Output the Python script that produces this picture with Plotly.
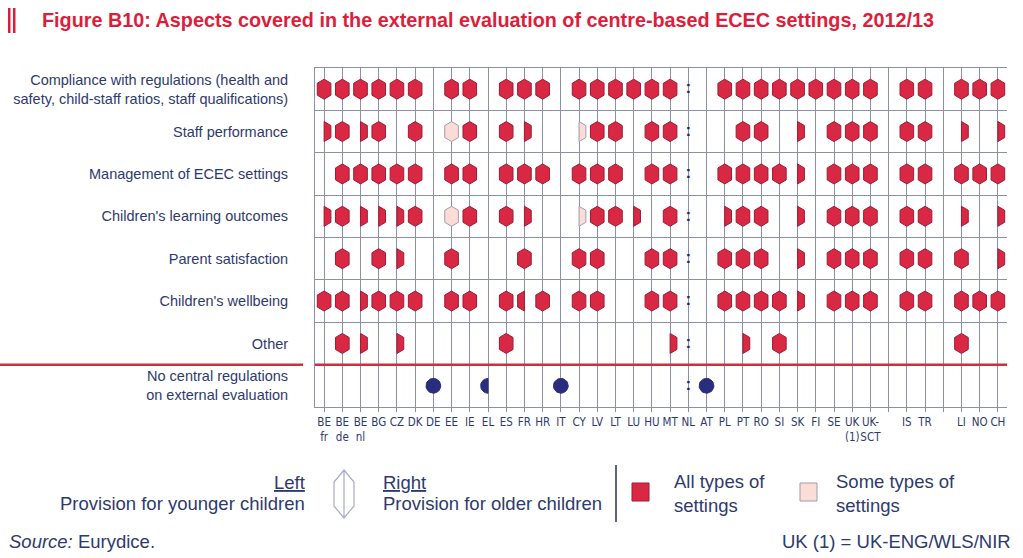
import math
import plotly.graph_objects as go

# ---------------- data ----------------
countries = ["BE<br>fr", "BE<br>de", "BE<br>nl", "BG", "CZ", "DK", "DE", "EE", "IE", "EL",
             "ES", "FR", "HR", "IT", "CY", "LV", "LT", "LU", "HU", "MT", "NL", "AT", "PL",
             "PT", "RO", "SI", "SK", "FI", "SE", "UK<br>(1)", "UK-<br>SCT", "", "IS", "TR",
             "", "LI", "NO", "CH"]

aspects = ["Compliance with regulations (health and<br>safety, child-staff ratios, staff qualifications)",
           "Staff performance",
           "Management of ECEC settings",
           "Children's learning outcomes",
           "Parent satisfaction",
           "Children's wellbeing",
           "Other",
           "No central regulations<br>on external evaluation"]

# codes per country: F = all settings (both ages), R = all settings, older children only,
# L = all settings, younger children only, f = some settings (both), r = some settings, older only,
# O = no central regulations, ( = no central regulations for younger children, : = not available
compliance          = list("FFFFFF.FF.FFF.FFFFFF:.FFFFFFFFF.FF.FFF")
staff_performance   = list("RFRF.F.fF.FR..rFF.FF:..FF.R.FFF.FF.R.R")
management          = list(".FFFFF.FF.FFF.FFF.FF:.FFFFR.FFF.FF.FFF")
learning_outcomes   = list("RFRRRF.fF.FR..rFFR.F:.RFF.R.FFF.FF.R.R")
parent_satisfaction = list(".F.FR..F...F..FF..FF:.FFF.R.FFF.FF.F.R")
wellbeing           = list("FFRFFF.FF.FLF.FF..FF:.FFFFR.FFF.FF.FFF")
other               = list(".FR.R.....F........R:..R.F.........F..")
no_central_regs     = list("......O..(...O......:O................")

rows = [compliance, staff_performance, management, learning_outcomes,
        parent_satisfaction, wellbeing, other, no_central_regs]

code_map = {"F": ("all", "full"), "R": ("all", "right"), "L": ("all", "left"),
            "f": ("some", "full"), "r": ("some", "right"), "l": ("some", "left"),
            "O": ("none", "full"), "(": ("none", "left"), ")": ("none", "right")}

# ---------------- geometry / styling ----------------
W, H = 1023, 558
PL, PR, PT, PB = 315, 1007, 68, 407
n_cols, n_rows = len(countries), len(aspects)
PX_X = (PR - PL) / n_cols
PX_Y = (PB - PT) / n_rows

HW = 6.8 / PX_X      # hexagon half width
HH = 10.0 / PX_Y     # hexagon half height (tip)
HS = 6.0 / PX_Y      # hexagon half height of vertical side
CR = 7.4             # circle radius px

RED = "#D92843"
RED_LINE = "#9E1C34"
PINK = "#FBDCD6"
PINK_LINE = "#A29CAE"
NAVY = "#2A2C7E"
GRID = "#8C8FAA"
TXT = "#2E3A6E"
TITLE_RED = "#DC1E3C"


def px(x):
    return (x - PL) / (PR - PL)


def py(y):
    return (PB - y) / (PB - PT)


def hexagon(cx, cy, part):
    top, bot = (cx, cy - HH), (cx, cy + HH)
    rt, rb = (cx + HW, cy - HS), (cx + HW, cy + HS)
    lt, lb = (cx - HW, cy - HS), (cx - HW, cy + HS)
    if part == "full":
        return [top, rt, rb, bot, lb, lt, top]
    if part == "right":
        return [top, rt, rb, bot, top]
    return [top, bot, lb, lt, top]


def circle(cx, cy, part):
    if part == "full":
        angs = range(0, 361, 10)
    elif part == "left":
        angs = range(90, 271, 10)
    else:
        angs = range(-90, 91, 10)
    pts = [(cx + CR / PX_X * math.cos(math.radians(a)),
            cy - CR / PX_Y * math.sin(math.radians(a))) for a in angs]
    pts.append(pts[0])
    return pts


groups = {"all": ([], []), "some": ([], []), "none": ([], [])}
colon_x, colon_y = [], []
for ri, row in enumerate(rows):
    for ci, code in enumerate(row):
        if code == ":":
            colon_x.append(ci)
            colon_y.append(ri)
            continue
        if code not in code_map:
            continue
        kind, part = code_map[code]
        pts = circle(ci, ri, part) if kind == "none" else hexagon(ci, ri, part)
        gx, gy = groups[kind]
        gx.extend([p[0] for p in pts] + [None])
        gy.extend([p[1] for p in pts] + [None])

fig = go.Figure()
styles = {"all": (RED, RED_LINE), "some": (PINK, PINK_LINE), "none": (NAVY, NAVY)}
for kind, (gx, gy) in groups.items():
    fc, lc = styles[kind]
    fig.add_trace(go.Scatter(x=gx, y=gy, mode="lines", fill="toself", fillcolor=fc,
                             line=dict(color=lc, width=1), hoverinfo="skip", showlegend=False))

fig.add_trace(go.Scatter(x=colon_x, y=colon_y, mode="text", text=[":"] * len(colon_x),
                         textposition="middle center",
                         textfont=dict(family="Liberation Sans", size=17, color="#23264F",
                                       weight="bold"),
                         hoverinfo="skip", showlegend=False))

# ---------------- layout ----------------
fig.update_layout(
    width=W, height=H, autosize=False,
    margin=dict(l=PL, r=W - PR, t=PT, b=H - PB, pad=0, autoexpand=False),
    paper_bgcolor="white", plot_bgcolor="white",
    font=dict(family="Liberation Sans, Arial, sans-serif", color=TXT),
    xaxis=dict(range=[-0.5, n_cols - 0.5], tickmode="array", tickvals=list(range(n_cols)),
               ticktext=countries, tickangle=0, showgrid=True, gridcolor=GRID, gridwidth=1,
               ticks="outside", ticklen=4, tickcolor=GRID, showline=True, linecolor=GRID,
               linewidth=1, mirror=True, zeroline=False, fixedrange=True, automargin=False,
               tickfont=dict(family="DejaVu Sans Condensed, Liberation Sans Narrow, Arial Narrow",
                             size=11.5, color=TXT)),
    yaxis=dict(range=[n_rows - 0.5, -0.5], tickmode="array", tickvals=list(range(n_rows)),
               ticktext=aspects, showgrid=False, zeroline=False, showline=True, linecolor=GRID,
               linewidth=1, ticks="", ticklabelstandoff=23, fixedrange=True, automargin=False,
               tickfont=dict(family="Liberation Sans, Arial", size=14.5, color=TXT),
               minor=dict(tickvals=[i + 0.5 for i in range(n_rows - 1)], showgrid=True,
                          gridcolor=GRID, gridwidth=1, ticks="")),
)

shapes = []
# red separator line above "No central regulations"
shapes.append(dict(type="line", xref="paper", yref="y", x0=0, x1=1, y0=n_rows - 1.5,
                   y1=n_rows - 1.5, line=dict(color=RED, width=2.5)))
shapes.append(dict(type="line", xref="paper", yref="y", x0=px(0), x1=px(303), y0=n_rows - 1.5,
                   y1=n_rows - 1.5, line=dict(color=RED, width=2.5)))
# title double bar
for x0 in (8, 13):
    shapes.append(dict(type="rect", xref="paper", yref="paper", x0=px(x0), x1=px(x0 + 2.5),
                       y0=py(33), y1=py(8), fillcolor=TITLE_RED, line=dict(width=0)))
# legend: hexagon outline icon
icx, itop, ibot, ihw, ishw = 344, 470, 518, 10, 12
hex_path = (f"M {px(icx)} {py(itop)} L {px(icx + ihw)} {py(itop + ishw)} "
            f"L {px(icx + ihw)} {py(ibot - ishw)} L {px(icx)} {py(ibot)} "
            f"L {px(icx - ihw)} {py(ibot - ishw)} L {px(icx - ihw)} {py(itop + ishw)} Z "
            f"M {px(icx)} {py(itop)} L {px(icx)} {py(ibot)}")
shapes.append(dict(type="path", xref="paper", yref="paper", path=hex_path,
                   line=dict(color="#A9ACC4", width=1.2)))
# legend separator
shapes.append(dict(type="line", xref="paper", yref="paper", x0=px(616), x1=px(616),
                   y0=py(465), y1=py(522), line=dict(color="#2B2E5E", width=1.5)))
# legend squares
shapes.append(dict(type="rect", xref="paper", yref="paper", x0=px(632), x1=px(649),
                   y0=py(501), y1=py(483), fillcolor=RED, line=dict(color=RED_LINE, width=1)))
shapes.append(dict(type="rect", xref="paper", yref="paper", x0=px(800), x1=px(817),
                   y0=py(501), y1=py(483), fillcolor=PINK, line=dict(color=PINK_LINE, width=1)))
fig.update_layout(shapes=shapes)

LEG = dict(family="Liberation Sans, Arial", size=18.5, color=TXT)
anns = [
    dict(text="<b>Figure B10: Aspects covered in the external evaluation of centre-based ECEC settings, 2012/13</b>",
         x=px(40), y=py(20), xanchor="left", yanchor="middle",
         font=dict(family="Liberation Sans, Arial", size=19.8, color=TITLE_RED)),
    dict(text="<u>Left</u>", x=px(307), y=py(482), xanchor="right", yanchor="middle", font=LEG),
    dict(text="Provision for younger children", x=px(307), y=py(503), xanchor="right",
         yanchor="middle", font=LEG),
    dict(text="<u>Right</u>", x=px(381), y=py(482), xanchor="left", yanchor="middle", font=LEG),
    dict(text="Provision for older children", x=px(381), y=py(503), xanchor="left",
         yanchor="middle", font=LEG),
    dict(text="All types of<br>settings", x=px(672), y=py(493), xanchor="left", yanchor="middle",
         align="left", font=LEG),
    dict(text="Some types of<br>settings", x=px(834), y=py(493), xanchor="left", yanchor="middle",
         align="left", font=LEG),
    dict(text="<i>Source:</i> Eurydice.", x=px(7), y=py(541), xanchor="left", yanchor="middle",
         font=dict(family="Liberation Sans, Arial", size=18.5, color=TXT)),
    dict(text="UK (1) = UK-ENG/WLS/NIR", x=px(1013), y=py(541), xanchor="right",
         yanchor="middle", font=dict(family="Liberation Sans, Arial", size=18.5, color=TXT)),
]
for a in anns:
    a.update(xref="paper", yref="paper", showarrow=False)
fig.update_layout(annotations=anns)

fig.write_html("out.html", config={"displayModeBar": False},
               post_script="document.body.style.margin='0';document.body.style.overflow='hidden';")
